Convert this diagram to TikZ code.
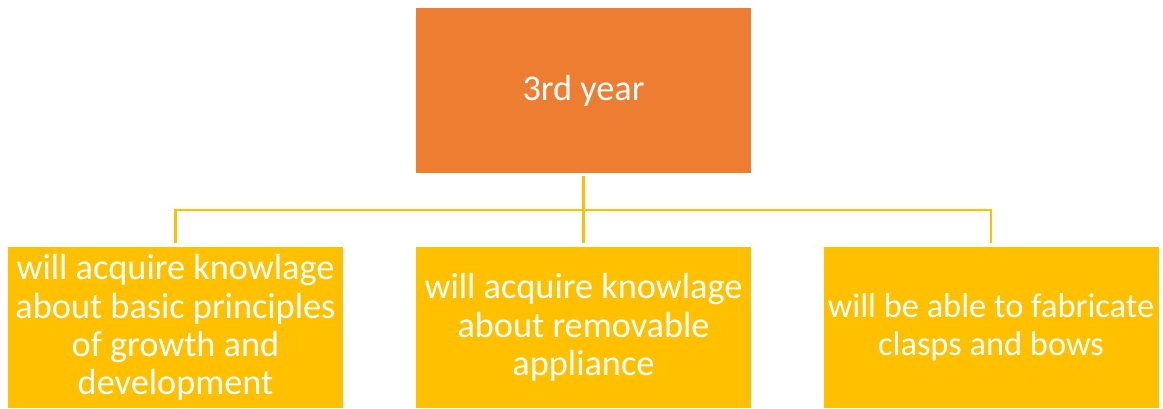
\documentclass[tikz,border=0pt]{standalone}
\usepackage{fontspec}
\setmainfont{Carlito}
\definecolor{orangebox}{HTML}{ED7D31}
\definecolor{yellowbox}{HTML}{FFC000}
\begin{document}
\begin{tikzpicture}[x=1pt,y=-1pt,
  box/.style={inner sep=0pt,minimum width=335pt,text width=335pt,align=flush center,text=white,
    font=\fontsize{36.3}{38.3}\selectfont},
  topbox/.style={box,fill=orangebox,minimum height=165pt},
  subbox/.style={box,fill=yellowbox,minimum height=161pt},
  link/.style={draw=yellowbox,line width=2.6pt}]
\useasboundingbox (0,0) rectangle (1163,409);
\node[topbox] (top) at (583.5,90.5) {3rd year};
\node[subbox] (left) at (175.5,327.5) {will acquire knowlage\\about basic principles\\of growth and\\development};
\node[subbox] (mid) at (583.5,327.5) {will acquire knowlage\\about removable\\appliance};
\node[subbox,font=\fontsize{34.4}{38.3}\selectfont] (right) at (991,327.5) {will be able to fabricate\\clasps and bows};
\coordinate (hub) at (583.5,210);
\draw[link,shorten <=3pt,shorten >=4pt] (top.south) -- (mid.north);
\draw[link,shorten <=4pt] (left.north) |- (hub);
\draw[link,shorten >=4pt] (hub) -| (right.north);
\end{tikzpicture}
\end{document}
